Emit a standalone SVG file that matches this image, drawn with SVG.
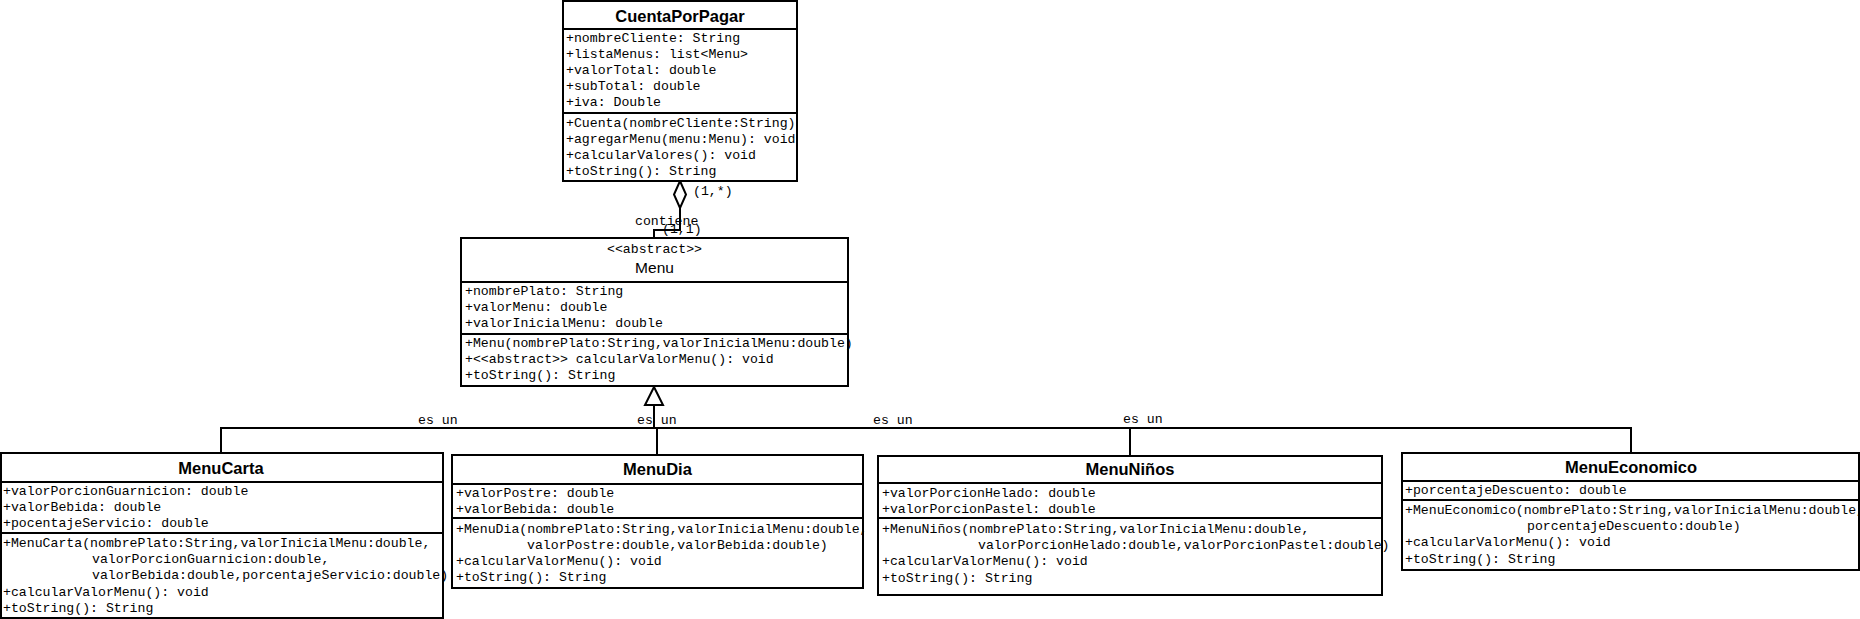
<svg xmlns="http://www.w3.org/2000/svg" width="1860" height="619" viewBox="0 0 1860 619">
<style>
.box{fill:none;stroke:#000;stroke-width:2}
.bg{fill:#fff;stroke:none}
.sep{stroke:#000;stroke-width:2}
.t{font-family:"Liberation Sans",Arial,sans-serif;font-size:16.5px;font-weight:bold;text-anchor:middle;fill:#000}
.tn{font-family:"Liberation Sans",Arial,sans-serif;font-size:15.5px;text-anchor:middle;fill:#000}
.m{font-family:"Liberation Mono","Courier New",monospace;font-size:13.2px;fill:#000}
.mc{font-family:"Liberation Mono","Courier New",monospace;font-size:13.2px;fill:#000;text-anchor:middle}
.c{fill:none;stroke:#000;stroke-width:2}
</style>
<defs>
<marker id="gen" markerWidth="20" markerHeight="20" refX="1" refY="9" orient="auto" markerUnits="userSpaceOnUse">
<path d="M1,9 L18,0 L18,18 Z" fill="#fff" stroke="#000" stroke-width="2"/>
</marker>
</defs>
<rect x="0" y="0" width="1860" height="619" fill="#fff"/>

<g id="connectors">
<path class="c" d="M680,208 L680,230 L654,230 L654,238"/>
<path d="M680,181 L686,194.5 L680,208 L674,194.5 Z" fill="#fff" stroke="#000" stroke-width="2"/>
<path class="c" d="M221,453 L221,428 L654,428 L654,405"/>
<path class="c" d="M657,455 L657,428 L654,428 L654,405"/>
<path class="c" d="M1130,456 L1130,428 L654,428 L654,405"/>
<path class="c" d="M1631,453 L1631,428 L654,428 L654,405"/>
<path d="M654,387 L663,405 L645,405 Z" fill="#fff" stroke="#000" stroke-width="2"/>
<text class="m" x="693" y="195">(1,*)</text>
<text class="m" x="635" y="225">contiene</text>
<text class="m" x="662" y="233">(1,1)</text>
<text class="m" x="418" y="424">es un</text>
<text class="m" x="637" y="424">es un</text>
<text class="m" x="873" y="424">es un</text>
<text class="m" x="1123" y="423">es un</text>
</g>

<g id="CuentaPorPagar">
<rect class="bg" x="563" y="1" width="234" height="180"/>
<text class="t" x="680" y="22">CuentaPorPagar</text>
<line class="sep" x1="563" y1="29" x2="797" y2="29"/>
<text class="m" x="566" y="42">+nombreCliente: String</text>
<text class="m" x="566" y="58">+listaMenus: list&lt;Menu&gt;</text>
<text class="m" x="566" y="74">+valorTotal: double</text>
<text class="m" x="566" y="90">+subTotal: double</text>
<text class="m" x="566" y="106">+iva: Double</text>
<line class="sep" x1="563" y1="113" x2="797" y2="113"/>
<text class="m" x="566" y="127">+Cuenta(nombreCliente:String)</text>
<text class="m" x="566" y="143">+agregarMenu(menu:Menu): void</text>
<text class="m" x="566" y="159">+calcularValores(): void</text>
<text class="m" x="566" y="175">+toString(): String</text>
<rect class="box" x="563" y="1" width="234" height="180"/>
</g>

<g id="Menu">
<rect class="bg" x="461" y="238" width="387" height="148"/>
<text class="mc" x="654.5" y="253">&lt;&lt;abstract&gt;&gt;</text>
<text class="tn" x="654.5" y="273">Menu</text>
<line class="sep" x1="461" y1="282" x2="848" y2="282"/>
<text class="m" x="465" y="295">+nombrePlato: String</text>
<text class="m" x="465" y="311">+valorMenu: double</text>
<text class="m" x="465" y="327">+valorInicialMenu: double</text>
<line class="sep" x1="461" y1="334" x2="848" y2="334"/>
<text class="m" x="465" y="347">+Menu(nombrePlato:String,valorInicialMenu:double)</text>
<text class="m" x="465" y="363">+&lt;&lt;abstract&gt;&gt; calcularValorMenu(): void</text>
<text class="m" x="465" y="379">+toString(): String</text>
<rect class="box" x="461" y="238" width="387" height="148"/>
</g>

<g id="MenuCarta">
<rect class="bg" x="0" y="453" width="443" height="165"/>
<text class="t" x="221" y="474">MenuCarta</text>
<line class="sep" x1="0" y1="482" x2="443" y2="482"/>
<text class="m" x="3" y="495">+valorPorcionGuarnicion: double</text>
<text class="m" x="3" y="511">+valorBebida: double</text>
<text class="m" x="3" y="527">+pocentajeServicio: double</text>
<line class="sep" x1="0" y1="533" x2="443" y2="533"/>
<text class="m" x="3" y="547">+MenuCarta(nombrePlato:String,valorInicialMenu:double,</text>
<text class="m" x="92" y="563">valorPorcionGuarnicion:double,</text>
<text class="m" x="92" y="579">valorBebida:double,porcentajeServicio:double)</text>
<text class="m" x="3" y="596">+calcularValorMenu(): void</text>
<text class="m" x="3" y="612">+toString(): String</text>
<rect class="box" x="1" y="453" width="442" height="165"/>
</g>

<g id="MenuDia">
<rect class="bg" x="452" y="455" width="411" height="133"/>
<text class="t" x="657.5" y="475">MenuDia</text>
<line class="sep" x1="452" y1="484" x2="863" y2="484"/>
<text class="m" x="456" y="497">+valorPostre: double</text>
<text class="m" x="456" y="513">+valorBebida: double</text>
<line class="sep" x1="452" y1="518" x2="863" y2="518"/>
<text class="m" x="456" y="533">+MenuDia(nombrePlato:String,valorInicialMenu:double,</text>
<text class="m" x="527" y="549">valorPostre:double,valorBebida:double)</text>
<text class="m" x="456" y="565">+calcularValorMenu(): void</text>
<text class="m" x="456" y="581">+toString(): String</text>
<rect class="box" x="452" y="455" width="411" height="133"/>
</g>

<g id="MenuNinos">
<rect class="bg" x="878" y="456" width="504" height="139"/>
<text class="t" x="1130" y="475">MenuNiños</text>
<line class="sep" x1="878" y1="483" x2="1382" y2="483"/>
<text class="m" x="882" y="497">+valorPorcionHelado: double</text>
<text class="m" x="882" y="513">+valorPorcionPastel: double</text>
<line class="sep" x1="878" y1="518" x2="1382" y2="518"/>
<text class="m" x="882" y="533">+MenuNiños(nombrePlato:String,valorInicialMenu:double,</text>
<text class="m" x="978" y="549">valorPorcionHelado:double,valorPorcionPastel:double)</text>
<text class="m" x="882" y="565">+calcularValorMenu(): void</text>
<text class="m" x="882" y="582">+toString(): String</text>
<rect class="box" x="878" y="456" width="504" height="139"/>
</g>

<g id="MenuEconomico">
<rect class="bg" x="1402" y="453" width="457" height="117"/>
<text class="t" x="1631" y="473">MenuEconomico</text>
<line class="sep" x1="1402" y1="481" x2="1859" y2="481"/>
<text class="m" x="1405" y="494">+porcentajeDescuento: double</text>
<line class="sep" x1="1402" y1="500" x2="1859" y2="500"/>
<text class="m" x="1405" y="514">+MenuEconomico(nombrePlato:String,valorInicialMenu:double,</text>
<text class="m" x="1527" y="530">porcentajeDescuento:double)</text>
<text class="m" x="1405" y="546">+calcularValorMenu(): void</text>
<text class="m" x="1405" y="563">+toString(): String</text>
<rect class="box" x="1402" y="453" width="457" height="117"/>
</g>
</svg>
